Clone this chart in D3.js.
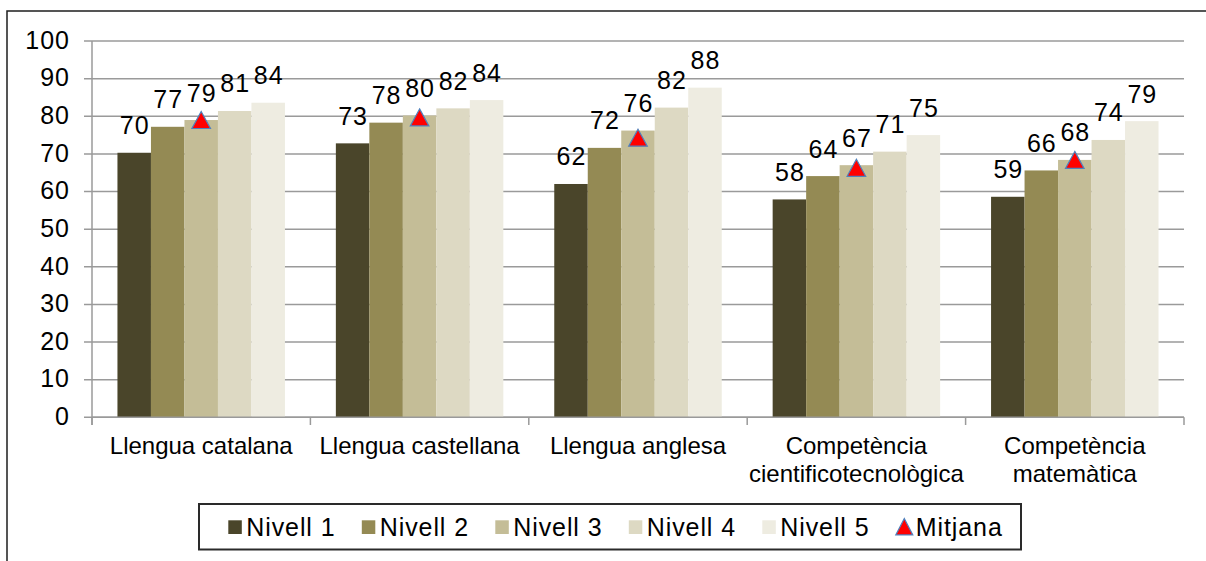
<!DOCTYPE html>
<html>
<head>
<meta charset="utf-8">
<script src="https://cdn.jsdelivr.net/npm/d3@7"></script>
<style>
  body { margin: 0; background: #fff; }
  svg { display: block; font-family: "Liberation Sans", Arial, sans-serif; }
</style>
</head>
<body>
<svg id="chart"></svg>
<script>
// chart data
const categories = [
    ["Llengua catalana"],
    ["Llengua castellana"],
    ["Llengua anglesa"],
    ["Competència", "cientificotecnològica"],
    ["Competència", "matemàtica"]
];
const seriesNames = ["Nivell 1", "Nivell 2", "Nivell 3", "Nivell 4", "Nivell 5"];
const nivell1 = [70.3, 72.8, 62.0, 57.9, 58.6];
const nivell2 = [77.2, 78.3, 71.6, 64.1, 65.6];
const nivell3 = [79.0, 80.2, 76.2, 67.0, 68.4];
const nivell4 = [81.4, 82.1, 82.3, 70.6, 73.7];
const nivell5 = [83.6, 84.3, 87.6, 75.0, 78.7];
const mitjana = [79.0, 79.7, 74.3, 66.3, 68.4];
const yTicks = [0, 10, 20, 30, 40, 50, 60, 70, 80, 90, 100];
const colors = ["#4A452A", "#948A54", "#C4BD97", "#DDD9C3", "#EEECE1"];

const W = 1206, H = 561;
const seriesValues = [nivell1, nivell2, nivell3, nivell4, nivell5];
const catIdx = categories.map((c, i) => i);

const svg = d3.select("#chart").attr("width", W).attr("height", H);

// outer frame (runs off the right and bottom edges)
svg.append("rect")
    .attr("x", 7).attr("y", 11)
    .attr("width", W + 20).attr("height", H + 20)
    .attr("fill", "none")
    .attr("stroke", "#1e1e1e")
    .attr("stroke-width", 1.5);

const y = d3.scaleLinear().domain([0, 100]).range([417.3, 41]);
const x0 = d3.scaleBand().domain(catIdx).range([92, 1184]).paddingInner(0).paddingOuter(0);
const x1 = d3.scaleBand().domain(d3.range(seriesNames.length))
    .range([0, x0.bandwidth()]).paddingInner(0).paddingOuter(0.76);

// gridlines
svg.append("g")
    .selectAll("line")
    .data(yTicks)
    .enter()
    .append("line")
    .attr("x1", 84).attr("x2", 1184)
    .attr("y1", d => y(d)).attr("y2", d => y(d))
    .attr("stroke", "#9a9a9a")
    .attr("stroke-width", 1.5);

// y tick labels
svg.append("g")
    .selectAll("text")
    .data(yTicks)
    .enter()
    .append("text")
    .attr("x", 70)
    .attr("y", d => y(d) + 7.8)
    .attr("text-anchor", "end")
    .attr("font-size", "25px")
    .attr("letter-spacing", "1px")
    .attr("fill", "#000")
    .text(d => d);

// bars
seriesValues.forEach((vals, s) => {
    svg.append("g")
        .selectAll("rect")
        .data(vals)
        .enter()
        .append("rect")
        .attr("x", (d, i) => x0(i) + x1(s))
        .attr("y", d => y(d))
        .attr("width", x1.bandwidth())
        .attr("height", d => y(0) - y(d))
        .attr("fill", colors[s]);
});

// axes lines
svg.append("line")
    .attr("x1", 92).attr("x2", 92)
    .attr("y1", y(100)).attr("y2", 425)
    .attr("stroke", "#9a9a9a").attr("stroke-width", 1.5);
svg.append("line")
    .attr("x1", 92).attr("x2", 1184)
    .attr("y1", y(0)).attr("y2", y(0))
    .attr("stroke", "#9a9a9a").attr("stroke-width", 1.5);
svg.append("g")
    .selectAll("line")
    .data(catIdx.concat([categories.length]))
    .enter()
    .append("line")
    .attr("x1", d => d < categories.length ? x0(d) : x0.range()[1])
    .attr("x2", d => d < categories.length ? x0(d) : x0.range()[1])
    .attr("y1", y(0)).attr("y2", 425)
    .attr("stroke", "#9a9a9a").attr("stroke-width", 1.5);

// value labels
const fmt = d3.format(".0f");
seriesValues.forEach((vals, s) => {
    svg.append("g")
        .selectAll("text")
        .data(vals)
        .enter()
        .append("text")
        .attr("x", (d, i) => x0(i) + x1(s) + x1.bandwidth() / 2 + 0.5)
        .attr("y", d => y(d) - 18.5)
        .attr("text-anchor", "middle")
        .attr("font-size", "25px")
        .attr("letter-spacing", "1px")
        .attr("fill", "#000")
        .text(d => fmt(d));
});

// mean markers
const tri = "M0,-8.5L9.3,8.5L-9.3,8.5Z";
svg.append("g")
    .selectAll("path")
    .data(mitjana)
    .enter()
    .append("path")
    .attr("d", tri)
    .attr("transform", (d, i) => `translate(${x0(i) + x1(2) + x1.bandwidth() / 2},${y(d)})`)
    .attr("fill", "#ff0000")
    .attr("stroke", "#4F81BD")
    .attr("stroke-width", 1.2);

// category labels
const catLabels = svg.append("g")
    .selectAll("text")
    .data(categories)
    .enter()
    .append("text")
    .attr("x", (d, i) => x0(i) + x0.bandwidth() / 2)
    .attr("y", 454)
    .attr("text-anchor", "middle")
    .attr("font-size", "24px")
    .attr("fill", "#000");
catLabels.selectAll("tspan")
    .data((d, i) => d.map(t => ({ t, i })))
    .enter()
    .append("tspan")
    .attr("x", d => x0(d.i) + x0.bandwidth() / 2)
    .attr("dy", (d, j) => j === 0 ? 0 : 27.7)
    .text(d => d.t);

// legend
svg.append("rect")
    .attr("x", 199).attr("y", 504)
    .attr("width", 822).attr("height", 45.5)
    .attr("fill", "#fff")
    .attr("stroke", "#2a2a2a")
    .attr("stroke-width", 2);

const legendItems = seriesNames.concat(["Mitjana"]);
const lg = svg.append("g")
    .selectAll("g")
    .data(legendItems)
    .enter()
    .append("g")
    .attr("transform", (d, i) => `translate(${228.3 + i * 133.5},0)`);
lg.filter((d, i) => i < seriesNames.length)
    .append("rect")
    .attr("x", 0).attr("y", 520.3)
    .attr("width", 13.5).attr("height", 13.7)
    .attr("fill", (d, i) => colors[i]);
lg.filter((d, i) => i === seriesNames.length)
    .append("path")
    .attr("d", "M0,-8.2L8.5,8.2L-8.5,8.2Z")
    .attr("transform", "translate(8.5,526.7)")
    .attr("fill", "#ff0000")
    .attr("stroke", "#4F81BD")
    .attr("stroke-width", 1.2);
lg.append("text")
    .attr("x", (d, i) => i === seriesNames.length ? 20 : 18)
    .attr("y", 535.7)
    .attr("font-size", "25px")
    .attr("letter-spacing", "0.9px")
    .attr("fill", "#000")
    .text(d => d);
</script>
</body>
</html>
